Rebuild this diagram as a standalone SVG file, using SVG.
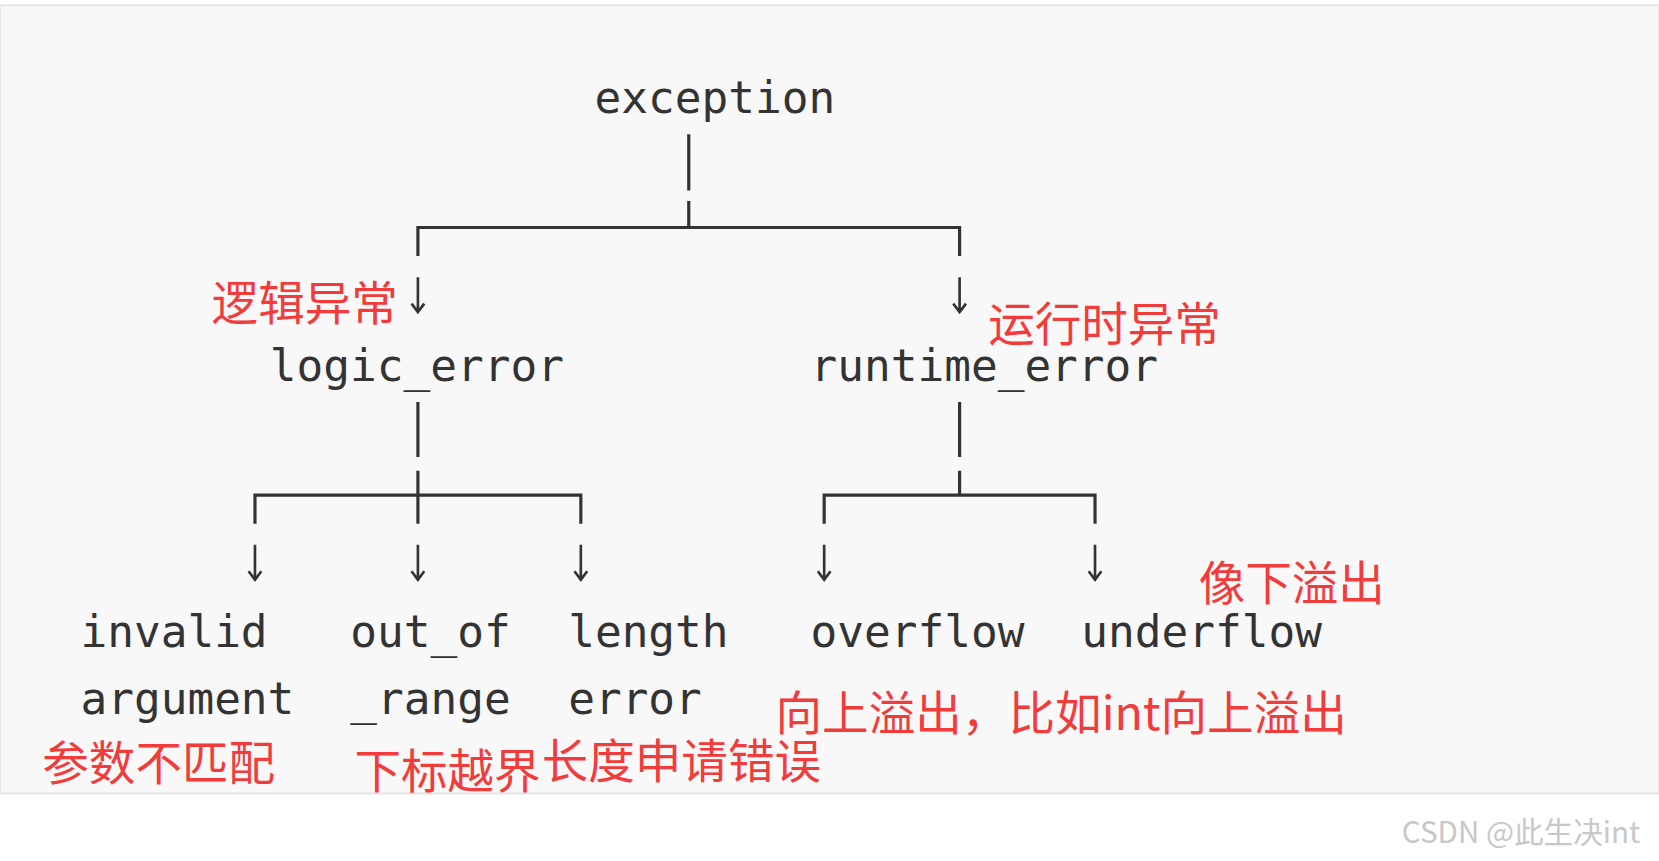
<svg xmlns="http://www.w3.org/2000/svg" width="1659" height="861" viewBox="0 0 1659 861">
<style>
.m{font-family:"DejaVu Sans Mono","Liberation Mono",monospace;font-size:42px;fill:#333}
.r{font-family:"Noto Sans CJK SC","Noto Sans",sans-serif;font-size:44px;fill:#f23c3c}
.w{font-family:"Noto Sans CJK SC","Liberation Sans",sans-serif;font-size:28px;fill:#c8c8c8}
.l{stroke:#333;stroke-width:3;fill:none}
</style>
<defs><path id="ar" d="M0,0V33M-6,25L0,33L6,25" fill="none" stroke="#333" stroke-width="2.5"/></defs>
<rect width="1659" height="861" fill="#fff"/>
<g transform="scale(1.058)">
<rect x="0" y="5" width="1568" height="745" fill="#f8f8f8" stroke="#e6e6e6" stroke-width="2"/>
<g id="connectors">
<path class="l" d="M651,127V180M651,190V215M395,242V215H907V242"/>
<path class="l" d="M395,380V432M395,445V495M241,495V468H549V495"/>
<path class="l" d="M907,380V432M907,445V468M779,495V468H1035V495"/>
<use href="#ar" x="395" y="262"/><use href="#ar" x="907" y="262"/>
<use href="#ar" x="241" y="515"/><use href="#ar" x="395" y="515"/><use href="#ar" x="549" y="515"/>
<use href="#ar" x="779" y="515"/><use href="#ar" x="1035" y="515"/>
</g>
<g id="exception"><text class="m" x="562" y="107">exception</text></g>
<g id="logic_error"><text class="m" x="255" y="360">logic_error</text><text class="r" x="200" y="302">逻辑异常</text></g>
<g id="runtime_error"><text class="m" x="766" y="360">runtime_error</text><text class="r" x="934" y="322">运行时异常</text></g>
<g id="invalid_argument"><text class="m" x="76" y="612">invalid</text><text class="m" x="76" y="675">argument</text><text class="r" x="40" y="737">参数不匹配</text></g>
<g id="out_of_range"><text class="m" x="331" y="612">out_of</text><text class="m" x="331" y="675">_range</text><text class="r" x="335" y="745">下标越界</text></g>
<g id="length_error"><text class="m" x="537" y="612">length</text><text class="m" x="537" y="675">error</text><text class="r" x="512" y="735">长度申请错误</text></g>
<g id="overflow"><text class="m" x="766" y="612">overflow</text><text class="r" x="733" y="690" textLength="540">向上溢出，比如int向上溢出</text></g>
<g id="underflow"><text class="m" x="1022" y="612">underflow</text><text class="r" x="1133" y="567">像下溢出</text></g>
<text class="w" x="1325" y="797">CSDN @此生决int</text>
</g>
</svg>
